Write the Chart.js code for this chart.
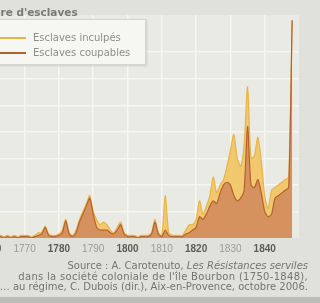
<!DOCTYPE html>
<html>
<head>
<meta charset="utf-8">
<script src="https://cdn.jsdelivr.net/npm/chart.js@4.4.0/dist/chart.umd.min.js"></script>
<style>
  html, body { margin: 0; padding: 0; }
  body { width: 320px; height: 303px; overflow: hidden; position: relative; background: #e1e1db; }
  #wrap { position: absolute; left: -60px; top: 0; width: 370px; height: 261px; }
  #wrap canvas { display: block; }
  #title { position: absolute; left: -34px; top: 6px; font: bold 10.5px "DejaVu Sans", sans-serif; color: #7a7a76; white-space: nowrap; }
  #legend { position: absolute; left: -40px; top: 19px; width: 184px; height: 44px; background: #f6f6f3; border: 1px solid #d6d6d0; box-shadow: 1px 1px 2px rgba(0,0,0,0.12); }
  #legend .item { position: absolute; left: 35px; height: 12px; font: 10px "DejaVu Sans", sans-serif; color: #8e8e8a; white-space: nowrap; }
  #legend .swatch { position: absolute; left: 0; top: 5px; width: 30px; height: 2px; }
  #legend .txt { position: absolute; left: 37px; top: 0; line-height: 12px; }
  #source { position: absolute; right: 12px; top: 261px; text-align: right; font: 10px "DejaVu Sans", sans-serif; line-height: 10.5px; color: #747470; white-space: nowrap; }
  #source .wide { letter-spacing: 0.3px; }
  #edge { position: absolute; left: 0; right: 0; top: 297px; bottom: 0; background: #bcbcb7; }
</style>
</head>
<body>
<div id="wrap"><canvas id="slaveChart" width="370" height="261"></canvas></div>
<div id="title">Nombre d'esclaves</div>
<div id="legend"></div>
<div id="source">
  <div>Source : A. Carotenuto, <i>Les Résistances serviles</i></div>
  <div class="wide">dans la société coloniale de l'île Bourbon (1750-1848),</div>
  <div>… au régime, C. Dubois (dir.), Aix-en-Provence, octobre 2006.</div>
</div>
<div id="edge"></div>
<script>
const years = [
  1750, 1751, 1752, 1753, 1754, 1755, 1756, 1757, 1758, 1759,
  1760, 1761, 1762, 1763, 1764, 1765, 1766, 1767, 1768, 1769,
  1770, 1771, 1772, 1773, 1774, 1775, 1776, 1777, 1778, 1779,
  1780, 1781, 1782, 1783, 1784, 1785, 1786, 1787, 1788, 1789,
  1790, 1791, 1792, 1793, 1794, 1795, 1796, 1797, 1798, 1799,
  1800, 1801, 1802, 1803, 1804, 1805, 1806, 1807, 1808, 1809,
  1810, 1811, 1812, 1813, 1814, 1815, 1816, 1817, 1818, 1819,
  1820, 1821, 1822, 1823, 1824, 1825, 1826, 1827, 1828, 1829,
  1830, 1831, 1832, 1833, 1834, 1835, 1836, 1837, 1838, 1839,
  1840, 1841, 1842, 1843, 1844, 1845, 1846, 1847, 1848
];

const inculpes = [
  1, 0, 1, 2, 1, 0, 1, 1, 2, 1,
  0, 1, 1, 1, 0.5, 1, 0.5, 1, 0.5, 1,
  1, 1, 0.5, 1, 2, 2, 4.5, 1.5, 1, 1,
  1.5, 3, 7, 2, 1, 3, 7, 10, 13, 16,
  10, 7, 5, 6, 5, 3, 2, 4, 6, 2,
  1, 1, 1, 0.5, 1, 1, 1, 2, 7, 2,
  1, 16, 2, 1, 1, 1, 1, 3, 5, 5,
  7, 14, 9, 12, 16, 23, 17, 20, 22, 27,
  33, 39, 30, 27, 35, 57, 30, 31, 38, 29,
  16, 11, 18, 19, 20, 21, 22, 23, 82
];

const coupables = [
  0, 0, 1, 1, 0, 0, 1, 0, 1, 0,
  0, 0.5, 0.5, 0.5, 0, 0.5, 0, 0.5, 0, 0.5,
  0.5, 0.5, 0, 0.5, 1, 1.5, 4, 1, 0.5, 0.5,
  1, 2, 6.5, 1.5, 0.5, 2, 6, 9, 12, 15,
  9, 4, 3, 3, 3, 2, 1.5, 3, 5, 1.5,
  0.5, 0.5, 0.5, 0, 0.5, 0.5, 0.5, 1.5, 6, 1.5,
  0.5, 3, 1, 0.5, 0.5, 0.5, 0.5, 1.5, 2, 3,
  4, 8, 7, 9, 12, 14, 13, 17, 20, 21,
  20, 16, 14, 15, 18, 42, 20, 19, 22, 17,
  10, 8, 9, 15, 16, 17, 18, 19, 82
];

const gridColor = '#f6f6f2';

const plotBackground = {
  id: 'plotBackground',
  beforeDraw(chart) {
    const a = chart.chartArea;
    const c = chart.ctx;
    c.save();
    c.fillStyle = '#eaeae5';
    c.fillRect(a.left, a.top, a.right - a.left, a.bottom - a.top);
    c.restore();
  }
};

const ctx = document.getElementById('slaveChart').getContext('2d');

const chart = new Chart(ctx, {
  type: 'line',
  data: {
    datasets: [
      {
        label: 'Esclaves inculpés',
        data: years.map((y, i) => ({ x: y, y: inculpes[i] })),
        borderColor: '#e8b447',
        backgroundColor: 'rgba(242, 196, 96, 0.9)',
        fill: 'origin',
        order: 1,
      },
      {
        label: 'Esclaves coupables',
        data: years.map((y, i) => ({ x: y, y: coupables[i] })),
        borderColor: '#b5622e',
        backgroundColor: 'rgba(210, 138, 92, 0.88)',
        fill: 'origin',
        order: 0,
      },
    ],
  },
  options: {
    responsive: false,
    animation: false,
    layout: { padding: { left: 16, right: 11, top: 15, bottom: 1 } },
    elements: {
      point: { radius: 0 },
      line: { borderWidth: 1.2, tension: 0.25 },
    },
    plugins: {
      legend: { display: false },
      tooltip: { enabled: false },
    },
    scales: {
      x: {
        type: 'linear',
        min: 1750,
        max: 1850,
        border: { display: false },
        grid: {
          color: c => (c.tick && c.tick.value > 1750 && c.tick.value < 1850) ? gridColor : 'transparent',
          lineWidth: 1.5,
          drawTicks: false,
        },
        ticks: {
          stepSize: 10,
          autoSkip: false,
          maxRotation: 0,
          padding: 5,
          callback: v => (v >= 1760 && v <= 1840) ? String(v) : '',
          color: c => (c.tick && c.tick.value % 20 === 0) ? '#5b5b58' : '#9b9b97',
          font: c => ({
            family: 'Liberation Sans',
            size: 10,
            weight: (c.tick && c.tick.value % 20 === 0) ? 'bold' : 'normal',
          }),
        },
      },
      y: {
        min: 0,
        max: 84,
        border: { display: false },
        grid: {
          color: c => (c.tick && c.tick.value > 0 && c.tick.value % 10 === 0) ? gridColor : 'transparent',
          lineWidth: 1.5,
          drawTicks: false,
        },
        ticks: { display: false, stepSize: 10 },
      },
    },
  },
  plugins: [plotBackground],
});

// legend in a box, built from the datasets
const legendBox = document.getElementById('legend');
chart.data.datasets.forEach((ds, i) => {
  const item = document.createElement('div');
  item.className = 'item';
  item.style.top = (12 + i * 15) + 'px';
  item.innerHTML = '<span class="swatch" style="background:' + ds.borderColor + '"></span><span class="txt">' + ds.label + '</span>';
  legendBox.appendChild(item);
});
</script>
</body>
</html>
